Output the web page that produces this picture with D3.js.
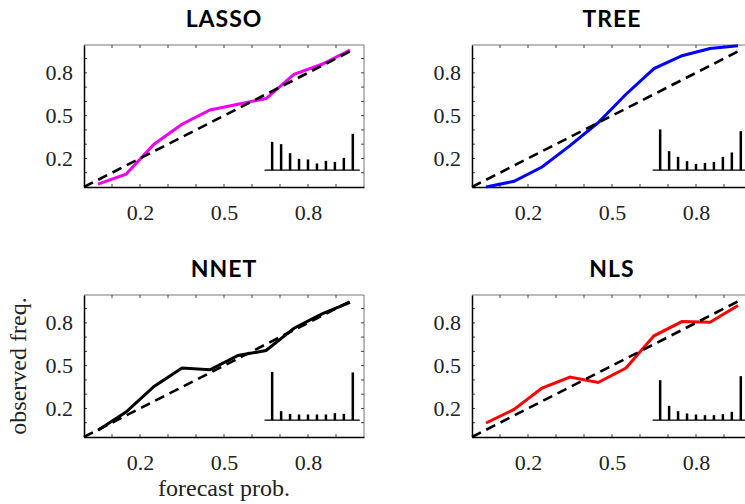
<!DOCTYPE html>
<html><head><meta charset="utf-8">
<script src="https://cdn.jsdelivr.net/npm/d3@7"></script>
<style>body{margin:0;background:#fff}</style></head>
<body><svg id="c" width="745" height="504"></svg>
<script>
const binCenters=[0.05,0.15,0.25,0.35,0.45,0.55,0.65,0.75,0.85,0.95];
const models=["LASSO","TREE","NNET","NLS"];
const colors=["#ee00ee","#0000ff","#000000","#ff0000"];
const lassoObs=[0.02,0.09,0.30,0.44,0.54,0.58,0.62,0.79,0.86,0.96];
const treeObs=[0.00,0.04,0.14,0.29,0.45,0.65,0.83,0.92,0.97,0.99];
const nnetObs=[0.047,0.175,0.354,0.483,0.471,0.571,0.606,0.762,0.862,0.944];
const nlsObs=[0.098,0.193,0.343,0.42,0.382,0.483,0.709,0.809,0.804,0.921];
const lassoHist=[28.3,26,17,11.3,10.7,6.7,9.3,8.3,12.3,36.3];
const treeHist=[40.7,19,13.3,9,6.3,7.3,8.3,13.3,17.7,39];
const nnetHist=[48.3,9,6.3,5.7,5.7,5.7,5.7,7,6.3,47.7];
const nlsHist=[40,14.3,9,6.7,5.7,5,5,6,8.3,44];
const obs=[lassoObs,treeObs,nnetObs,nlsObs];
const hists=[lassoHist,treeHist,nnetHist,nlsHist];
const tickVals=[0.2,0.5,0.8];
const tickLabels=["0.2","0.5","0.8"];
const minorTicks=[0.1,0.2,0.3,0.4,0.5,0.6,0.7,0.8,0.9];

const svg=d3.select("#c");
const W=280,H=142;
const pos=[[84,45],[472,45],[84,295],[472,295]];
const serif="'Liberation Serif','DejaVu Serif',serif";
models.forEach((m,i)=>{
  const [ox,oy]=pos[i];
  const g=svg.append("g").attr("transform",`translate(${ox},${oy})`);
  const x=d3.scaleLinear().domain([0,1]).range([0,W]);
  const y=d3.scaleLinear().domain([0,0.995]).range([H,0]);
  g.append("line").attr("x1",0).attr("x2",W).attr("y1",0).attr("y2",0).attr("stroke","#777").attr("stroke-width",1);
  g.append("line").attr("x1",W).attr("x2",W).attr("y1",0).attr("y2",H).attr("stroke","#777").attr("stroke-width",1);
  minorTicks.forEach(t=>{
    g.append("line").attr("x1",x(t)).attr("x2",x(t)).attr("y1",H).attr("y2",H-3).attr("stroke","#444");
    g.append("line").attr("x1",x(t)).attr("x2",x(t)).attr("y1",0).attr("y2",3).attr("stroke","#444");
    g.append("line").attr("x1",0).attr("x2",3).attr("y1",y(t)).attr("y2",y(t)).attr("stroke","#444");
    g.append("line").attr("x1",W).attr("x2",W-3).attr("y1",y(t)).attr("y2",y(t)).attr("stroke","#444");
  });
  const xa=d3.axisBottom(x).tickValues(tickVals).tickFormat((d,k)=>tickLabels[k]).tickSize(0).tickPadding(17);
  const ya=d3.axisLeft(y).tickValues(tickVals).tickFormat((d,k)=>tickLabels[k]).tickSize(0).tickPadding(11);
  const gx=g.append("g").attr("transform",`translate(0,${H})`).call(xa);
  const gy=g.append("g").call(ya);
  [gx,gy].forEach(a=>{a.attr("font-size",null).attr("font-family",null);
    a.select(".domain").attr("stroke","#000").attr("stroke-width",1.5);
    a.selectAll("text").style("font-family",serif).style("font-size","22px").attr("fill","#222");});
  const hx=d3.scaleLinear().domain([0,9]).range([x(0.672),x(0.96)]);
  const hh=d3.scaleLinear().domain([0,1]).range([0,1]);
  const base=y(0.118);
  g.append("line").attr("x1",x(0.645)).attr("x2",x(0.985)).attr("y1",base).attr("y2",base).attr("stroke","#000").attr("stroke-width",1.2);
  g.selectAll(".hb").data(hists[i]).enter().append("rect")
    .attr("x",(d,k)=>hx(k)-1.25).attr("width",2.5).attr("y",d=>base-hh(d)).attr("height",d=>hh(d)).attr("fill","#000");
  const line=d3.line().x(d=>x(d[0])).y(d=>y(d[1]));
  g.append("path").datum(binCenters.map((c,k)=>[c,obs[i][k]])).attr("d",line)
    .attr("fill","none").attr("stroke",colors[i]).attr("stroke-width",3);
  g.append("path").datum([[0,0],[0.95,0.95]]).attr("d",line).attr("fill","none")
    .attr("stroke","#000").attr("stroke-width",2.6).attr("stroke-dasharray","10,6");
  g.append("text").attr("x",W/2).attr("y",-18).attr("text-anchor","middle")
    .style("font-family","Lato,'Open Sans',sans-serif").style("font-weight","bold").style("font-size","23px")
    .style("letter-spacing","1px").text(m);
});
svg.append("text").attr("transform","translate(26,366) rotate(-90)").attr("text-anchor","middle")
  .style("font-family",serif).style("font-size","24px").attr("fill","#222").text("observed freq.");
svg.append("text").attr("x",224).attr("y",496).attr("text-anchor","middle")
  .style("font-family",serif).style("font-size","24px").attr("fill","#222").text("forecast prob.");
</script></body></html>
